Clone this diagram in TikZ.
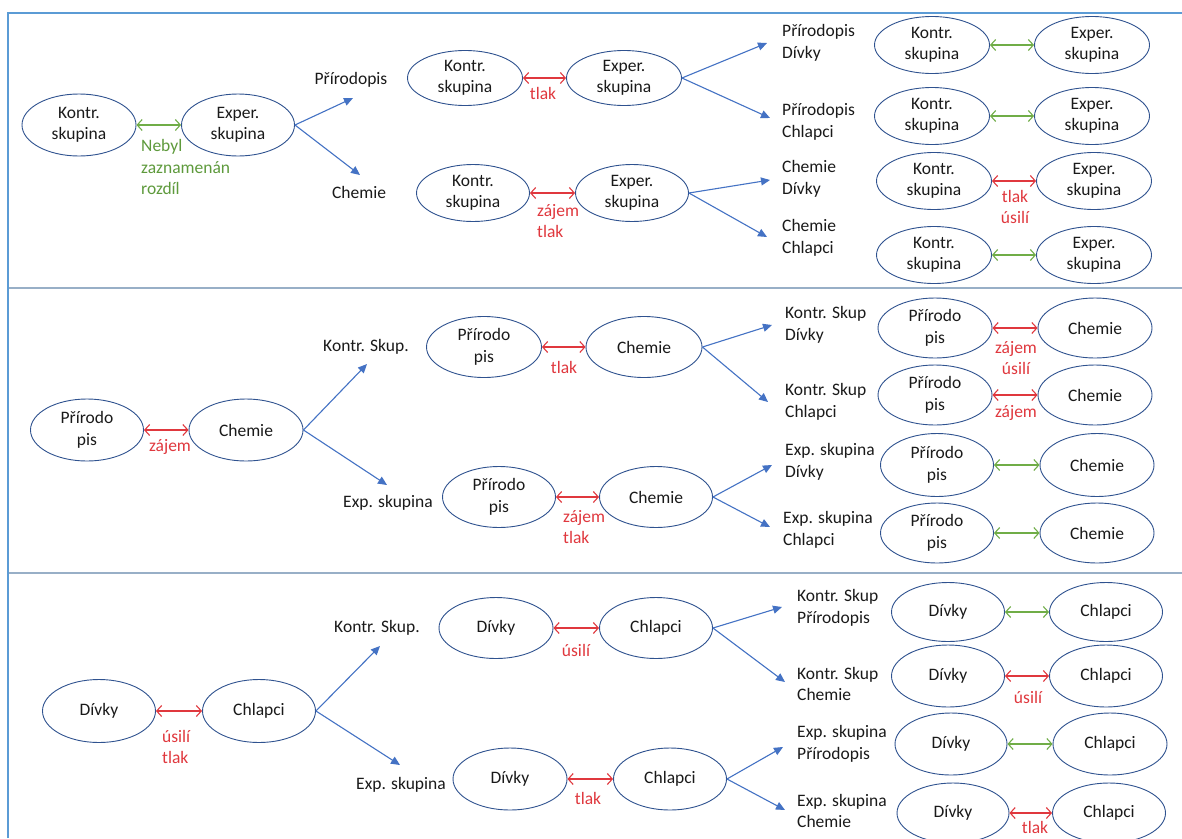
\documentclass[tikz,border=0pt]{standalone}
\usepackage{fontspec}
\setmainfont{Carlito}
\usetikzlibrary{shapes.geometric,arrows.meta}
\definecolor{ellc}{HTML}{2F528F}
\definecolor{arrblue}{HTML}{4472C4}
\definecolor{sigred}{HTML}{E0383E}
\definecolor{nsgreen}{HTML}{70AD47}
\definecolor{nstext}{HTML}{5E9A3C}
\definecolor{framec}{HTML}{5B9BD5}
\definecolor{sepc}{HTML}{98AFC7}
\definecolor{txtc}{HTML}{1A1A1A}
\newcommand\dgfont{\fontsize{17.5}{21.5}\selectfont}
\tikzset{
  ell/.style={ellipse, draw=ellc, line width=0.9pt, minimum width=114pt,
    minimum height=60pt, inner sep=0pt, align=center, font=\dgfont, text=txtc},
  lbl/.style={align=left, inner sep=0pt, anchor=west, font=\dgfont, text=txtc},
  ttl/.style={inner sep=0pt, font=\dgfont, text=txtc},
  rtxt/.style={inner sep=0pt, font=\dgfont, text=sigred},
  branch/.style={draw=arrblue, line width=1.1pt, -{Triangle[length=9pt,width=8pt]}},
  sig/.style={draw=sigred, line width=1.1pt,
    {Straight Barb[length=5pt,width=11pt]}-{Straight Barb[length=5pt,width=11pt]}},
  nsig/.style={draw=nsgreen, line width=1.1pt,
    {Straight Barb[length=5pt,width=11pt]}-{Straight Barb[length=5pt,width=11pt]}},
  framel/.style={draw=framec, line width=2pt},
  sepl/.style={draw=sepc, line width=1.6pt}
}
\begin{document}
\begin{tikzpicture}[x=1pt,y=-1pt]
\useasboundingbox (0,0) rectangle (1182,838);
\fill[white] (0,0) rectangle (1182,838);

% frame and section separators
\draw[framel] (8,838) -- (8,13) -- (1182,13);
\draw[sepl] (9,288) -- (1182,288);
\draw[sepl] (9,573) -- (1182,573);

% ===== section 1: control vs. experimental group =====
\node[ell, minimum width=114pt, minimum height=62pt] (a1) at (79,125) {Kontr.\\skupina};
\node[ell, minimum width=113pt, minimum height=62pt] (a2) at (238,125) {Exper.\\skupina};
\draw[nsig] (a1) -- (a2);
\node[lbl, text=nstext] (a12) at (141,167) {Nebyl\\zaznamenán\\rozdíl};
\node[ttl] (ap) at (351,80) {Přírodopis};
\node[ttl] (ac) at (359,192) {Chemie};
\coordinate (apt) at (353,98);
\coordinate (act) at (360,175);
\draw[branch] (a2.east) -- (apt);
\draw[branch] (a2.east) -- (act);

\node[ell, minimum width=115pt, minimum height=55pt] (b1) at (465,78) {Kontr.\\skupina};
\node[ell, minimum width=115pt, minimum height=55pt] (b2) at (624,78) {Exper.\\skupina};
\draw[sig] (b1) -- (b2);
\node[rtxt] (b12) at (543,93) {tlak};
\coordinate (b2u) at (767,43);
\coordinate (b2d) at (770,118);
\draw[branch] (b2.east) -- (b2u);
\draw[branch] (b2.east) -- (b2d);

\node[ell, minimum width=113pt, minimum height=57pt] (b3) at (473,193) {Kontr.\\skupina};
\node[ell, minimum width=113pt, minimum height=57pt] (b4) at (632,193) {Exper.\\skupina};
\draw[sig] (b3) -- (b4);
\node[lbl, text=sigred] (b34) at (537,221) {zájem\\tlak};
\coordinate (b4u) at (770,180);
\coordinate (b4d) at (767,237);
\draw[branch] (b4.east) -- (b4u);
\draw[branch] (b4.east) -- (b4d);

\node[lbl] (l1) at (782,43) {Přírodopis\\Dívky};
\node[lbl] (l2) at (782,122) {Přírodopis\\Chlapci};
\node[lbl] (l3) at (782,179) {Chemie\\Dívky};
\node[lbl] (l4) at (782,238) {Chemie\\Chlapci};

\node[ell, minimum width=115pt, minimum height=57pt] (c1) at (932,45) {Kontr.\\skupina};
\node[ell, minimum width=115pt, minimum height=57pt] (c2) at (1092,45) {Exper.\\skupina};
\draw[nsig] (c1) -- (c2);
\node[ell, minimum width=115pt, minimum height=57pt] (c3) at (932,116) {Kontr.\\skupina};
\node[ell, minimum width=115pt, minimum height=57pt] (c4) at (1092,116) {Exper.\\skupina};
\draw[nsig] (c3) -- (c4);
\node[ell, minimum width=115pt, minimum height=57pt] (c5) at (934,181) {Kontr.\\skupina};
\node[ell, minimum width=115pt, minimum height=57pt] (c6) at (1094,181) {Exper.\\skupina};
\draw[sig] (c5) -- (c6);
\node[rtxt, align=center] (c56) at (1015,207) {tlak\\úsilí};
\node[ell, minimum width=115pt, minimum height=57pt] (c7) at (934,255) {Kontr.\\skupina};
\node[ell, minimum width=115pt, minimum height=57pt] (c8) at (1094,255) {Exper.\\skupina};
\draw[nsig] (c7) -- (c8);

% ===== section 2: biology vs. chemistry =====
\node[ell, minimum width=113pt, minimum height=62pt] (d1) at (87,430) {Přírodo\\pis};
\node[ell, minimum width=114pt, minimum height=62pt] (d2) at (246,430) {Chemie};
\draw[sig] (d1) -- (d2);
\node[rtxt] (d12) at (170,447) {zájem};
\node[ttl] (dk) at (366,347) {Kontr. Skup.};
\node[ttl] (de) at (388,503) {Exp. skupina};
\coordinate (dkt) at (367,364);
\coordinate (det) at (387,485);
\draw[branch] (d2.east) -- (dkt);
\draw[branch] (d2.east) -- (det);

\node[ell, minimum width=115pt, minimum height=61pt] (e1) at (484,347) {Přírodo\\pis};
\node[ell, minimum width=116pt, minimum height=61pt] (e2) at (644,347) {Chemie};
\draw[sig] (e1) -- (e2);
\node[rtxt] (e12) at (564,367) {tlak};
\coordinate (e2u) at (772,325);
\coordinate (e2d) at (768,402);
\draw[branch] (e2.east) -- (e2u);
\draw[branch] (e2.east) -- (e2d);

\node[ell, minimum width=113pt, minimum height=61pt] (e3) at (499,497) {Přírodo\\pis};
\node[ell, minimum width=113pt, minimum height=61pt] (e4) at (656,497) {Chemie};
\draw[sig] (e3) -- (e4);
\node[lbl, text=sigred] (e34) at (563,527) {zájem\\tlak};
\coordinate (e4u) at (772,465);
\coordinate (e4d) at (770,527);
\draw[branch] (e4.east) -- (e4u);
\draw[branch] (e4.east) -- (e4d);

\node[lbl] (m1) at (785,325) {Kontr. Skup\\Dívky};
\node[lbl] (m2) at (785,402) {Kontr. Skup\\Chlapci};
\node[lbl] (m3) at (785,462) {Exp. skupina\\Dívky};
\node[lbl] (m4) at (783,530) {Exp. skupina\\Chlapci};

\node[ell, minimum width=114pt, minimum height=60pt] (f1) at (935,328) {Přírodo\\pis};
\node[ell, minimum width=114pt, minimum height=60pt] (f2) at (1095,328) {Chemie};
\draw[sig] (f1) -- (f2);
\node[rtxt, align=center] (f12) at (1016,358) {zájem\\úsilí};
\node[ell, minimum width=114pt, minimum height=60pt] (f3) at (935,395) {Přírodo\\pis};
\node[ell, minimum width=114pt, minimum height=60pt] (f4) at (1095,395) {Chemie};
\draw[sig] (f3) -- (f4);
\node[rtxt] (f34) at (1016,413) {zájem};
\node[ell, minimum width=113pt, minimum height=63pt] (f5) at (937,465) {Přírodo\\pis};
\node[ell, minimum width=114pt, minimum height=63pt] (f6) at (1097,465) {Chemie};
\draw[nsig] (f5) -- (f6);
\node[ell, minimum width=113pt, minimum height=60pt] (f7) at (937,533) {Přírodo\\pis};
\node[ell, minimum width=114pt, minimum height=60pt] (f8) at (1097,533) {Chemie};
\draw[nsig] (f7) -- (f8);

% ===== section 3: girls vs. boys =====
\node[ell, minimum width=113pt, minimum height=63pt] (g1) at (99,711) {Dívky};
\node[ell, minimum width=113pt, minimum height=63pt] (g2) at (259,711) {Chlapci};
\draw[sig] (g1) -- (g2);
\node[lbl, text=sigred] (g12) at (162,747) {úsilí\\tlak};
\node[ttl] (gk) at (377,628) {Kontr. Skup.};
\node[ttl] (ge) at (401,785) {Exp. skupina};
\coordinate (gkt) at (380,646);
\coordinate (get) at (400,765);
\draw[branch] (g2.east) -- (gkt);
\draw[branch] (g2.east) -- (get);

\node[ell, minimum width=114pt, minimum height=61pt] (h1) at (496,628) {Dívky};
\node[ell, minimum width=113pt, minimum height=61pt] (h2) at (656,628) {Chlapci};
\draw[sig] (h1) -- (h2);
\node[rtxt] (h12) at (576,650) {úsilí};
\coordinate (h2u) at (782,607);
\coordinate (h2d) at (785,682);
\draw[branch] (h2.east) -- (h2u);
\draw[branch] (h2.east) -- (h2d);

\node[ell, minimum width=114pt, minimum height=62pt] (h3) at (510,779) {Dívky};
\node[ell, minimum width=113pt, minimum height=62pt] (h4) at (670,779) {Chlapci};
\draw[sig] (h3) -- (h4);
\node[rtxt] (h34) at (588,798) {tlak};
\coordinate (h4u) at (783,747);
\coordinate (h4d) at (785,810);
\draw[branch] (h4.east) -- (h4u);
\draw[branch] (h4.east) -- (h4d);

\node[lbl] (n1) at (797,608) {Kontr. Skup\\Přírodopis};
\node[lbl] (n2) at (797,684) {Kontr. Skup\\Chemie};
\node[lbl] (n3) at (797,744) {Exp. skupina\\Přírodopis};
\node[lbl] (n4) at (797,811) {Exp. skupina\\Chemie};

\node[ell, minimum width=113pt, minimum height=59pt] (i1) at (948,612) {Dívky};
\node[ell, minimum width=113pt, minimum height=59pt] (i2) at (1106,612) {Chlapci};
\draw[nsig] (i1) -- (i2);
\node[ell, minimum width=113pt, minimum height=62pt] (i3) at (948,676) {Dívky};
\node[ell, minimum width=113pt, minimum height=62pt] (i4) at (1106,676) {Chlapci};
\draw[sig] (i3) -- (i4);
\node[rtxt] (i34) at (1028,697) {úsilí};
\node[ell, minimum width=112pt, minimum height=62pt] (i5) at (951,744) {Dívky};
\node[ell, minimum width=114pt, minimum height=62pt] (i6) at (1110,744) {Chlapci};
\draw[nsig] (i5) -- (i6);
\node[ell, minimum width=112pt, minimum height=60pt] (i7) at (953,813) {Dívky};
\node[ell, minimum width=113pt, minimum height=60pt] (i8) at (1109,813) {Chlapci};
\draw[sig] (i7) -- (i8);
\node[rtxt] (i78) at (1035,827) {tlak};
\end{tikzpicture}
\end{document}
